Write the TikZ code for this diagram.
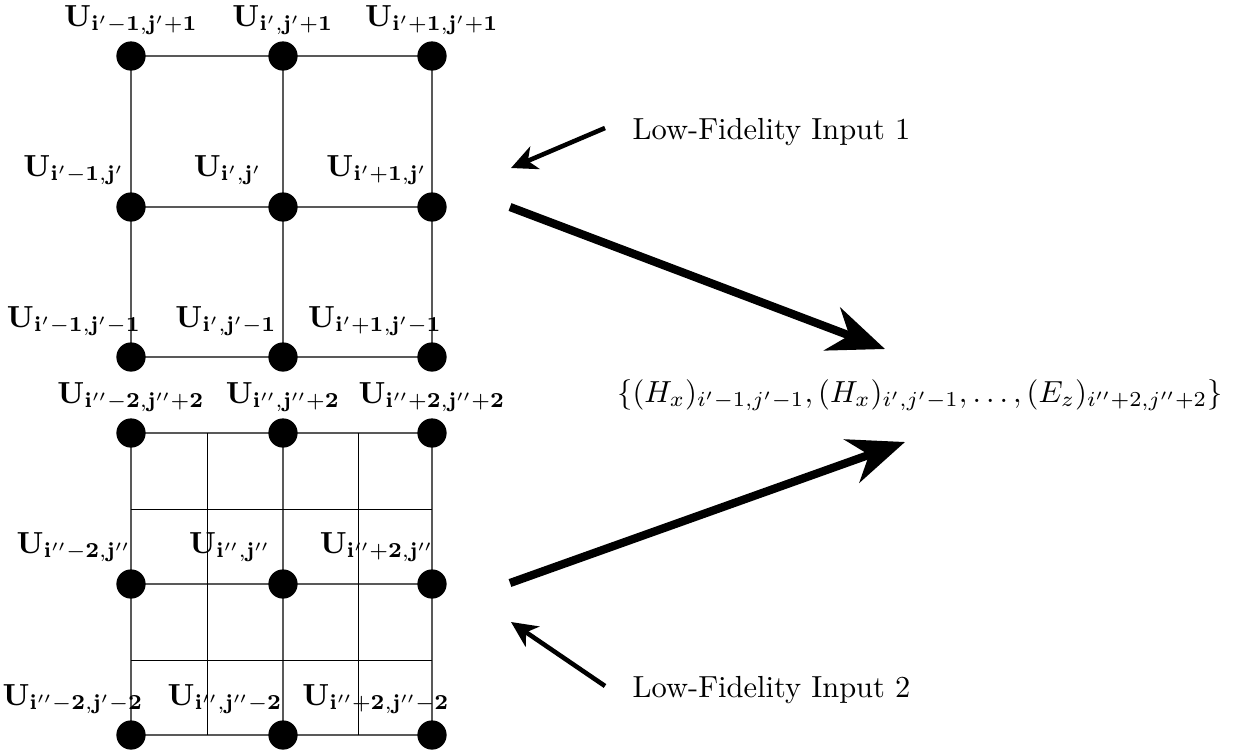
\documentclass[tikz,border=0pt]{standalone}
\usetikzlibrary{arrows.meta}
\begin{document}
\begin{tikzpicture}[x=0.328pt,y=-0.328pt,
  dot/.style={circle,fill=black,minimum size=9.6pt,inner sep=0pt},
  gridline/.style={draw=black!65,line width=0.5pt},
  fineline/.style={draw=black,line width=0.3pt},
  lbl/.style={anchor=base,inner sep=0pt},
  bigarrow/.style={-{Stealth[length=18.5pt,width=15pt,inset=6pt]},line width=2.7pt},
  smallarrow/.style={-{Stealth[length=8.5pt,width=8pt,inset=2.5pt]},line width=1.5pt},
  txt/.style={anchor=base west,inner sep=0pt}]
\useasboundingbox (0,0) rectangle (1233,755);

% ---------- top grid ----------
\draw[gridline] (131,56) -- (432,56) (131,207) -- (432,207) (131,357) -- (432,357)
  (131,56) -- (131,357) (283,56) -- (283,357) (432,56) -- (432,357);
% ---------- bottom grid ----------
\draw[gridline] (131,433) -- (432,433) (131,584) -- (432,584) (131,735) -- (432,735)
  (131,433) -- (131,735) (283,433) -- (283,735) (432,433) -- (432,735);
\draw[fineline] (207,433) -- (207,735) (358,433) -- (358,735)
  (131,509) -- (432,509) (131,660) -- (432,660);

% dots top
\node[dot] (ta1) at (131,56) {};
\node[dot] (tb1) at (283,56) {};
\node[dot] (tc1) at (432,56) {};
\node[dot] (ta2) at (131,207) {};
\node[dot] (tb2) at (283,207) {};
\node[dot] (tc2) at (432,207) {};
\node[dot] (ta3) at (131,357) {};
\node[dot] (tb3) at (283,357) {};
\node[dot] (tc3) at (432,357) {};
% dots bottom
\node[dot] (ba1) at (131,433) {};
\node[dot] (bb1) at (283,433) {};
\node[dot] (bc1) at (432,433) {};
\node[dot] (ba2) at (131,584) {};
\node[dot] (bb2) at (283,584) {};
\node[dot] (bc2) at (432,584) {};
\node[dot] (ba3) at (131,735) {};
\node[dot] (bb3) at (283,735) {};
\node[dot] (bc3) at (432,735) {};

% labels top grid
\node[lbl] (lta1) at (131,26) {$\mathbf{U_{i'-1,j'+1}}$};
\node[lbl] (ltb1) at (283,26) {$\mathbf{U_{i',j'+1}}$};
\node[lbl] (ltc1) at (432,26) {$\mathbf{U_{i'+1,j'+1}}$};
\node[lbl] (lta2) at (74,176) {$\mathbf{U_{i'-1,j'}}$};
\node[lbl] (ltb2) at (228,176) {$\mathbf{U_{i',j'}}$};
\node[lbl] (ltc2) at (377,176) {$\mathbf{U_{i'+1,j'}}$};
\node[lbl] (lta3) at (74,327) {$\mathbf{U_{i'-1,j'-1}}$};
\node[lbl] (ltb3) at (226,327) {$\mathbf{U_{i',j'-1}}$};
\node[lbl] (ltc3) at (375,327) {$\mathbf{U_{i'+1,j'-1}}$};
% labels bottom grid
\node[lbl] (lba1) at (131,403) {$\mathbf{U_{i''-2,j''+2}}$};
\node[lbl] (lbb1) at (283,403) {$\mathbf{U_{i'',j''+2}}$};
\node[lbl] (lbc1) at (432,403) {$\mathbf{U_{i''+2,j''+2}}$};
\node[lbl] (lba2) at (74,553) {$\mathbf{U_{i''-2,j''}}$};
\node[lbl] (lbb2) at (230,553) {$\mathbf{U_{i'',j''}}$};
\node[lbl] (lbc2) at (377,553) {$\mathbf{U_{i''+2,j''}}$};
\node[lbl] (lba3) at (73,705) {$\mathbf{U_{i''-2,j'-2}}$};
\node[lbl] (lbb3) at (225,705) {$\mathbf{U_{i'',j''-2}}$};
\node[lbl] (lbc3) at (376,705) {$\mathbf{U_{i''+2,j''-2}}$};

% texts
\node[txt] (in1) at (632,139) {Low-Fidelity Input 1};
\node[txt] (in2) at (632,697) {Low-Fidelity Input 2};
\node[inner sep=0pt] (out) at (920,395)
  {$\{(H_x)_{i'-1,j'-1},(H_x)_{i',j'-1},\dots,(E_z)_{i''+2,j''+2}\}$};

% arrows
\coordinate (s1a) at (605,128);
\coordinate (s1b) at (511,168);
\coordinate (s2a) at (605,686);
\coordinate (s2b) at (511,622);
\draw[smallarrow] (s1a) -- (s1b);
\draw[smallarrow] (s2a) -- (s2b);
\coordinate (b1a) at (510,207);
\coordinate (b1b) at (885,349);
\coordinate (b2a) at (510,583);
\coordinate (b2b) at (905,442);
\draw[bigarrow] (b1a) -- (b1b);
\draw[bigarrow] (b2a) -- (b2b);
\end{tikzpicture}
\end{document}
